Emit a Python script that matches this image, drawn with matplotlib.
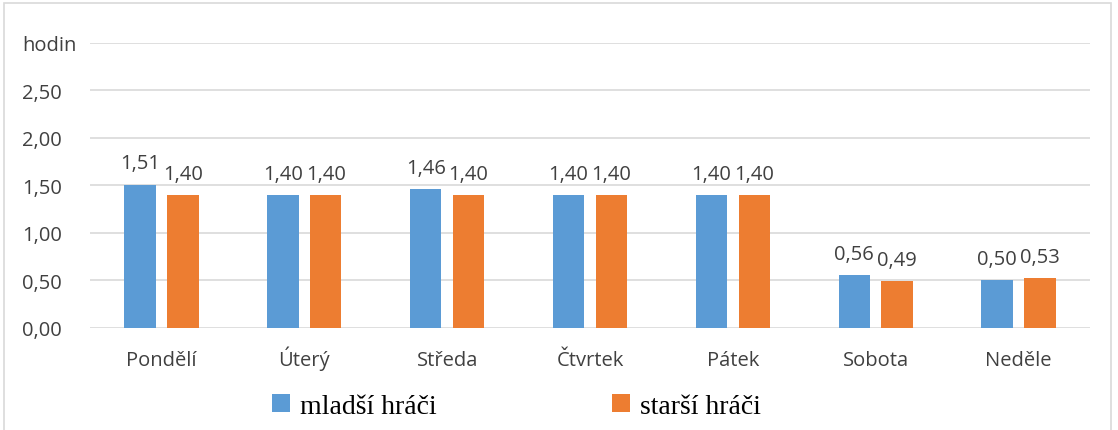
import matplotlib.pyplot as plt
import numpy as np
from matplotlib.patches import Rectangle

days = ['Pondělí', 'Úterý', 'Středa', 'Čtvrtek', 'Pátek', 'Sobota', 'Neděle']
mladsi = [1.51, 1.40, 1.46, 1.40, 1.40, 0.56, 0.50]
starsi = [1.40, 1.40, 1.40, 1.40, 1.40, 0.49, 0.53]
series_names = ['mladší hráči', 'starší hráči']
yticks = [0, 0.5, 1.0, 1.5, 2.0, 2.5, 3.0]
ytick_labels = ['0,00', '0,50', '1,00', '1,50', '2,00', '2,50', 'hodin']

blue = '#5b9bd5'
orange = '#ed7d31'
txt = '#404040'

plt.rcParams['font.family'] = ['Open Sans', 'DejaVu Sans']

fig = plt.figure(figsize=(11.18, 4.31), dpi=100)
ax = fig.add_axes([0.0805, 0.2367, 0.8945, 0.6613])
fig.patches.append(Rectangle((0.004, -0.01), 0.99, 1.0, transform=fig.transFigure,
                             fill=False, edgecolor='#d9d9d9', lw=1.2))

x = np.arange(len(days))
w = 0.22
b1 = ax.bar(x - 0.15, mladsi, w, color=blue, label=series_names[0], zorder=3)
b2 = ax.bar(x + 0.15, starsi, w, color=orange, label=series_names[1], zorder=3)

for bars, vals in ((b1, mladsi), (b2, starsi)):
    for r, v in zip(bars, vals):
        ax.annotate(f'{v:.2f}'.replace('.', ','), (r.get_x() + r.get_width() / 2, v),
                    xytext=(0, 8), textcoords='offset points', ha='center', va='bottom',
                    fontsize=14.5, color=txt)

ax.set_xlim(-0.5, len(days) - 0.5)
ax.set_ylim(0, 3.0)
ax.set_yticks(yticks)
ax.set_yticklabels(ytick_labels)
ax.set_xticks(x)
ax.set_xticklabels(days)
ax.tick_params(axis='both', length=0, labelsize=14.5, colors=txt)
for lab in ax.get_yticklabels():
    lab.set_horizontalalignment('left')
for lab in ax.get_xticklabels():
    lab.set_verticalalignment('baseline')
ax.yaxis.set_tick_params(pad=49)
ax.xaxis.set_tick_params(pad=27)
ax.grid(axis='y', color='#d9d9d9', lw=1.2, zorder=0)
for s in ax.spines.values():
    s.set_visible(False)

fig.legend(handles=[b1, b2], labels=series_names, loc='center', bbox_to_anchor=(0.462, 0.055),
           ncol=2, frameon=False, columnspacing=6.3, handlelength=0.65, handleheight=0.65,
           handletextpad=0.35, prop={'family': 'Liberation Serif', 'size': 20})

fig.savefig('out.png', dpi=100)
